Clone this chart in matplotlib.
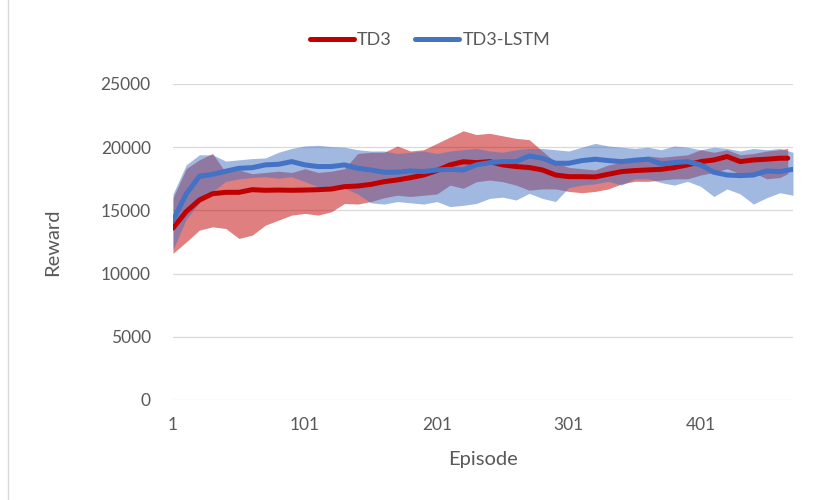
import numpy as np
import matplotlib.pyplot as plt

plt.rcParams['font.family'] = ['Lato', 'DejaVu Sans']

# episodes (the TD3 run stops a few episodes earlier)
ep_lstm = list(range(1, 472, 10))
ep_td3 = list(range(1, 462, 10)) + [467]

# TD3 reward: running mean and spread band
td3_mean = [13600, 14900, 15820, 16320, 16430, 16430, 16640, 16590, 16610, 16590,
            16610, 16640, 16690, 16880, 16930, 17060, 17270, 17410, 17590, 17800,
            18150, 18600, 18850, 18780, 18860, 18600, 18470, 18390, 18200, 17800,
            17670, 17670, 17650, 17860, 18070, 18150, 18200, 18250, 18390, 18600,
            18860, 18990, 19260, 18860, 18990, 19050, 19130, 19130]
td3_low = [11600, 12500, 13440, 13700, 13570, 12780, 13040, 13830, 14230, 14630,
           14760, 14630, 14890, 15550, 15500, 15700, 16000, 16200, 16100, 16200,
           16300, 17000, 16750, 17270, 17400, 17270, 17000, 16600, 16700, 16700,
           16500, 16400, 16500, 16700, 17100, 17300, 17300, 17400, 17500, 17500,
           17800, 18000, 18300, 17900, 18000, 17500, 17600, 17900]
td3_high = [16000, 18300, 19000, 19500, 18000, 18200, 17900, 18000, 18100, 18000,
            18300, 18000, 18100, 18300, 19500, 19600, 19600, 20100, 19700, 19800,
            20300, 20800, 21300, 21000, 21100, 20900, 20700, 20600, 19700, 18800,
            18400, 18300, 18200, 18600, 18800, 19000, 19300, 19200, 19300, 19400,
            19800, 19600, 19800, 19400, 19500, 19700, 19800, 19900]

# TD3-LSTM reward: running mean and spread band
lstm_mean = [14200, 16300, 17700, 17850, 18100, 18330, 18380, 18600, 18650, 18860,
             18600, 18470, 18470, 18600, 18330, 18200, 18020, 18020, 18120, 18070,
             18200, 18250, 18200, 18600, 18780, 18860, 18860, 19300, 19130, 18730,
             18730, 18940, 19050, 18940, 18860, 18970, 19050, 18680, 18780, 18860,
             18600, 18020, 17800, 17750, 17800, 18120, 18070, 18250]
lstm_low = [11900, 14300, 15600, 16500, 17300, 17500, 17600, 17670, 17540, 17670,
            17270, 16880, 16880, 16750, 16300, 15600, 15500, 15700, 15600, 15500,
            15700, 15300, 15400, 15550, 15950, 16050, 15820, 16350, 15950, 15700,
            16800, 17000, 17100, 17300, 17000, 17500, 17500, 17200, 17000, 17300,
            16900, 16100, 16700, 16300, 15500, 16000, 16400, 16200]
lstm_high = [16300, 18600, 19400, 19400, 18900, 19000, 19100, 19150, 19600, 19900,
             20100, 20150, 20050, 20000, 19800, 19700, 19700, 19500, 19600, 19700,
             19500, 19700, 19800, 19900, 19700, 19600, 19800, 19900, 19900, 19800,
             19700, 20000, 20300, 20100, 20000, 19900, 20000, 19800, 20100, 20000,
             19800, 20000, 19900, 19700, 19900, 19800, 19900, 19600]

x_ticks = [1, 101, 201, 301, 401]
y_ticks = [0, 5000, 10000, 15000, 20000, 25000]

red = '#C00000'
blue = '#4472C4'
grey = '#595959'

fig = plt.figure(figsize=(8.21, 5.0), dpi=100)
ax = fig.add_axes([173 / 821, 0.2, 620 / 821, 316 / 500])

# shaded bands first, mean lines on top
ax.fill_between(ep_td3, td3_low, td3_high, color=red, alpha=0.5, lw=0)
ax.fill_between(ep_lstm, lstm_low, lstm_high, color=blue, alpha=0.5, lw=0)
ax.plot(ep_td3, td3_mean, color=red, lw=3.6, solid_capstyle='round', label='TD3')
ax.plot(ep_lstm, lstm_mean, color=blue, lw=3.6, solid_capstyle='round', label='TD3-LSTM')

ax.set_xlim(1, 471)
ax.set_ylim(0, 25000)
ax.set_xticks(x_ticks)
ax.set_yticks(y_ticks)
ax.tick_params(length=0, labelsize=12.5, labelcolor=grey)
ax.tick_params(axis='y', pad=16)
ax.tick_params(axis='x', pad=12)
ax.grid(axis='y', color='#D9D9D9', lw=0.9)
ax.set_axisbelow(True)
for s in ax.spines.values():
    s.set_visible(False)

ax.set_xlabel('Episode', fontsize=14.5, color=grey)
ax.set_ylabel('Reward', fontsize=14.5, color=grey)
ax.xaxis.set_label_coords(0.5, -0.16)
ax.yaxis.set_label_coords(-0.18, 0.5)

fig.legend(loc='center', bbox_to_anchor=(0.524, 0.92), ncol=2, frameon=False,
           fontsize=13, labelcolor=grey, handlelength=2.4, handletextpad=0.2,
           columnspacing=1.3)

# thin frame line on the left side of the chart area
fig.add_artist(plt.Line2D([8 / 821, 8 / 821], [0, 1], color='#D9D9D9', lw=1))

fig.savefig('out.png', dpi=100)
